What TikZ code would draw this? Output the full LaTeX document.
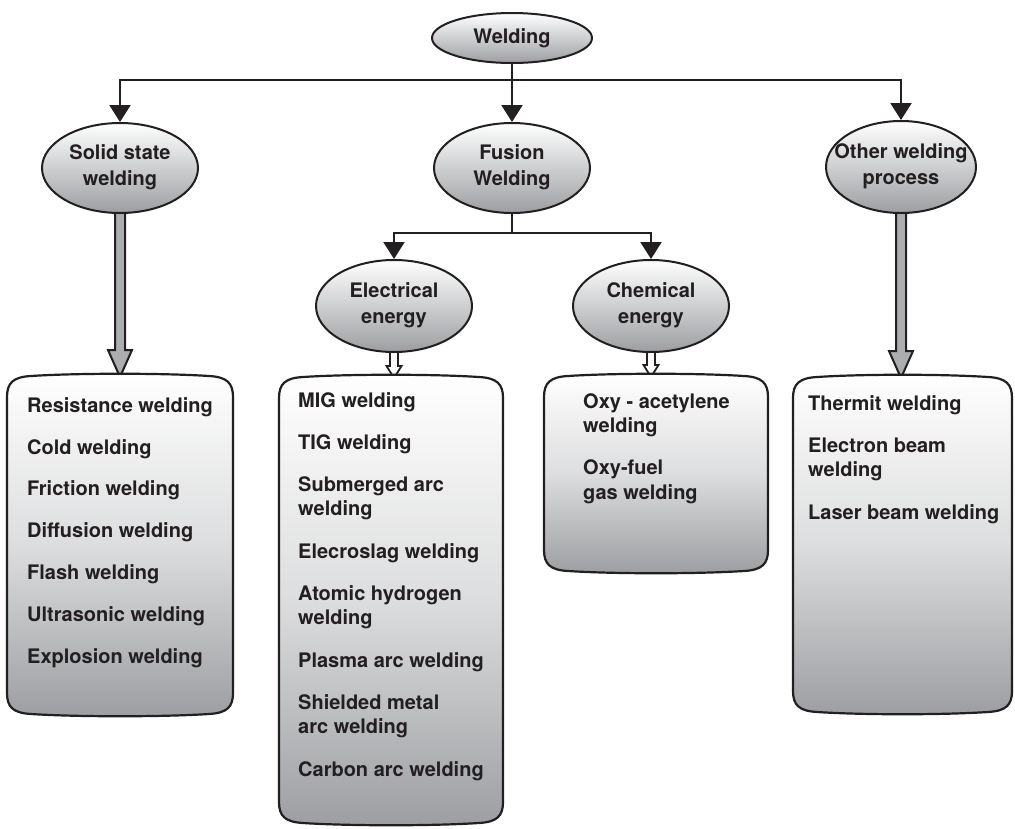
\documentclass[tikz,border=0pt]{standalone}
\usepackage{fontspec}
\setmainfont{TeX Gyre Heros}
\usetikzlibrary{arrows.meta,shapes.geometric,backgrounds,calc}
\definecolor{ink}{HTML}{231F20}
\definecolor{shadegray}{HTML}{9C9EA1}
\newcommand\wbox[5]{%
  \draw[boxline] (#2,#3+20) .. controls (#2,#3+6) and (#2+6,#3) .. (#2+24,#3-1)
    .. controls (#2+70,#3-4) and (#4-70,#3-4) .. (#4-24,#3-1)
    .. controls (#4-6,#3) and (#4,#3+6) .. (#4,#3+20) -- (#4,#5-20)
    .. controls (#4,#5-6) and (#4-6,#5) .. (#4-24,#5+1)
    .. controls (#4-70,#5+4) and (#2+70,#5+4) .. (#2+24,#5+1)
    .. controls (#2+6,#5) and (#2,#5-6) .. (#2,#5-20) -- cycle;
  \node[inner sep=0pt, outer sep=0pt, minimum width={#4-#2}, minimum height={#5-#3}] (#1) at ({(#2+#4)/2},{(#3+#5)/2}) {};
}
\newcommand\hollowarrow[6]{%
  \draw[#6] let \p1=(#1.south), \p2=(#2.north) in
    (\x1-#3pt,\y1+3pt) -- (\x1-#3pt,\y2+#5pt) -- (\x1-#4pt,\y2+#5pt) -- (\x1,\y2)
    -- (\x1+#4pt,\y2+#5pt) -- (\x1+#3pt,\y2+#5pt) -- (\x1+#3pt,\y1+3pt) -- cycle;
}
\begin{document}
\begin{tikzpicture}[x=1pt,y=-1pt,
  every node/.style={text=ink},
  font=\fontsize{20}{24.3}\selectfont\bfseries,
  oval/.style={ellipse, draw=ink, line width=2pt, inner sep=0pt, top color=white, bottom color=shadegray, minimum width=156pt, minimum height=90pt},
  conn/.style={draw=ink, line width=2.2pt},
  arr/.style={conn, -{Triangle[width=21pt,length=17pt]}},
  listtext/.style={align=left, anchor=base west, inner sep=0pt},
  boxline/.style={draw=ink, line width=2.2pt, top color=white, bottom color=shadegray, middle color=white!65!shadegray},
  bighollow/.style={draw=ink, line width=2pt, line join=miter, fill=shadegray!85},
  smallhollow/.style={draw=ink, line width=1.8pt, line join=miter, fill=white}
]
\useasboundingbox (0,0) rectangle (1015,828);

% boxes
\wbox{lbox}{7}{377}{233}{713}
\wbox{mbox}{279}{378}{503}{822}
\wbox{cbox}{544}{377}{768}{570}
\wbox{rbox}{793}{378}{1012}{711}

% ellipses
\node[oval, minimum width=160pt, minimum height=50pt] (weld) at (512,38) {Welding};
\node[oval] (solid) at (120,168) {\makebox[0pt]{\begin{tabular}{@{}c@{}}Solid state\\[1.5pt]welding\end{tabular}}};
\node[oval] (fusion) at (512,168) {\makebox[0pt]{\begin{tabular}{@{}c@{}}Fusion\\[1.5pt]Welding\end{tabular}}};
\node[oval, minimum width=150pt, minimum height=92pt] (other) at (901,167) {\makebox[0pt]{\begin{tabular}{@{}c@{}}Other welding\\[1.5pt]process\end{tabular}}};
\node[oval, minimum height=92pt] (elec) at (394,306) {\makebox[0pt]{\begin{tabular}{@{}c@{}}Electrical\\[1.5pt]energy\end{tabular}}};
\node[oval, minimum height=92pt] (chem) at (651,306) {\makebox[0pt]{\begin{tabular}{@{}c@{}}Chemical\\[1.5pt]energy\end{tabular}}};

% connectors
\coordinate (j) at (512,80);
\coordinate (k) at (512,233);
\draw[conn] (weld.south) -- (j);
\draw[arr] (j) -| (solid.north);
\draw[arr] (j) -- (fusion.north);
\draw[arr] (j) -| (other.north);
\draw[conn] (fusion.south) -- (k);
\draw[arr] (k) -| (elec.north);
\draw[arr] (k) -| (chem.north);

\begin{scope}[on background layer]
\hollowarrow{solid}{lbox}{5}{12}{27}{bighollow}
\hollowarrow{other}{rbox}{5}{12}{27}{bighollow}
\hollowarrow{elec}{mbox}{4}{7.5}{12}{smallhollow}
\hollowarrow{chem}{cbox}{4}{7.5}{12}{smallhollow}
\end{scope}

% texts (anchored at the baseline of the last line)
\node[listtext] (ltext) at (27,663) {Resistance welding\\[17.5pt]Cold welding\\[17.5pt]Friction welding\\[17.5pt]Diffusion welding\\[17.5pt]Flash welding\\[17.5pt]Ultrasonic welding\\[17.5pt]Explosion welding};
\node[listtext] (mtext) at (298,776) {MIG welding\\[18pt]TIG welding\\[18pt]Submerged arc\\welding\\[18pt]Elecroslag welding\\[18pt]Atomic hydrogen\\welding\\[18pt]Plasma arc welding\\[18pt]Shielded metal\\arc welding\\[18pt]Carbon arc welding};
\node[listtext] (ctext) at (583,499) {Oxy - acetylene\\welding\\[18pt]Oxy-fuel\\gas welding};
\node[listtext] (rtext) at (808,519) {Thermit welding\\[18pt]Electron beam\\welding\\[18pt]Laser beam welding};
\end{tikzpicture}
\end{document}
